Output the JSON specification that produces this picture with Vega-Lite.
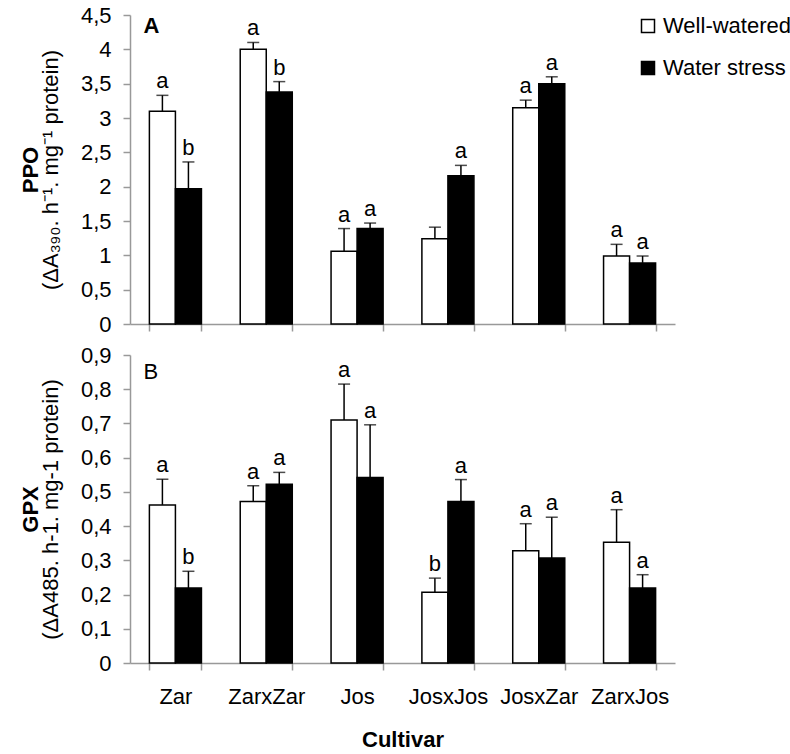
{
  "$schema": "https://vega.github.io/schema/vega-lite/v6.json",
  "padding": {"left": 19, "top": 4, "right": 0, "bottom": 0},
  "background": "white",
  "config": {
    "locale": {"number": {"decimal": ",", "thousands": ".", "grouping": [3], "currency": ["", ""]}},
    "font": "Liberation Sans",
    "view": {"stroke": null},
    "axis": {
      "domainColor": "#999999", "tickColor": "#999999", "domainWidth": 1.5, "tickWidth": 1.5, "tickSize": 7,
      "grid": false, "labelFont": "Liberation Sans", "labelFontSize": 22, "labelColor": "#000000",
      "titleFont": "Liberation Sans", "titleFontSize": 22, "titleColor": "#000000"
    },
    "legend": {"labelFont": "Liberation Sans", "labelFontSize": 22, "labelColor": "#000000"},
    "text": {"font": "Liberation Sans", "fontSize": 22, "color": "#000000"}
  },
  "datasets": {
    "bars": [
      {"panel": "A", "cultivar": "Zar", "treatment": "Well-watered", "value": 3.10, "errhi": 3.33, "letter": "a"},
      {"panel": "A", "cultivar": "Zar", "treatment": "Water stress", "value": 1.97, "errhi": 2.36, "letter": "b"},
      {"panel": "A", "cultivar": "ZarxZar", "treatment": "Well-watered", "value": 4.00, "errhi": 4.10, "letter": "a"},
      {"panel": "A", "cultivar": "ZarxZar", "treatment": "Water stress", "value": 3.38, "errhi": 3.53, "letter": "b"},
      {"panel": "A", "cultivar": "Jos", "treatment": "Well-watered", "value": 1.06, "errhi": 1.39, "letter": "a"},
      {"panel": "A", "cultivar": "Jos", "treatment": "Water stress", "value": 1.39, "errhi": 1.47, "letter": "a"},
      {"panel": "A", "cultivar": "JosxJos", "treatment": "Well-watered", "value": 1.24, "errhi": 1.41, "letter": ""},
      {"panel": "A", "cultivar": "JosxJos", "treatment": "Water stress", "value": 2.16, "errhi": 2.31, "letter": "a"},
      {"panel": "A", "cultivar": "JosxZar", "treatment": "Well-watered", "value": 3.15, "errhi": 3.26, "letter": "a"},
      {"panel": "A", "cultivar": "JosxZar", "treatment": "Water stress", "value": 3.50, "errhi": 3.60, "letter": "a"},
      {"panel": "A", "cultivar": "ZarxJos", "treatment": "Well-watered", "value": 0.99, "errhi": 1.16, "letter": "a"},
      {"panel": "A", "cultivar": "ZarxJos", "treatment": "Water stress", "value": 0.89, "errhi": 0.99, "letter": "a"},
      {"panel": "B", "cultivar": "Zar", "treatment": "Well-watered", "value": 0.462, "errhi": 0.537, "letter": "a"},
      {"panel": "B", "cultivar": "Zar", "treatment": "Water stress", "value": 0.219, "errhi": 0.268, "letter": "b"},
      {"panel": "B", "cultivar": "ZarxZar", "treatment": "Well-watered", "value": 0.472, "errhi": 0.518, "letter": "a"},
      {"panel": "B", "cultivar": "ZarxZar", "treatment": "Water stress", "value": 0.522, "errhi": 0.557, "letter": "a"},
      {"panel": "B", "cultivar": "Jos", "treatment": "Well-watered", "value": 0.710, "errhi": 0.815, "letter": "a"},
      {"panel": "B", "cultivar": "Jos", "treatment": "Water stress", "value": 0.542, "errhi": 0.696, "letter": "a"},
      {"panel": "B", "cultivar": "JosxJos", "treatment": "Well-watered", "value": 0.207, "errhi": 0.248, "letter": "b"},
      {"panel": "B", "cultivar": "JosxJos", "treatment": "Water stress", "value": 0.472, "errhi": 0.536, "letter": "a"},
      {"panel": "B", "cultivar": "JosxZar", "treatment": "Well-watered", "value": 0.328, "errhi": 0.407, "letter": "a"},
      {"panel": "B", "cultivar": "JosxZar", "treatment": "Water stress", "value": 0.307, "errhi": 0.426, "letter": "a"},
      {"panel": "B", "cultivar": "ZarxJos", "treatment": "Well-watered", "value": 0.353, "errhi": 0.448, "letter": "a"},
      {"panel": "B", "cultivar": "ZarxJos", "treatment": "Water stress", "value": 0.219, "errhi": 0.258, "letter": "a"}
    ],
    "labels": [
      {"panel": "A", "cultivar": "Zar", "yv": 4.5, "label": "A"},
      {"panel": "B", "cultivar": "Zar", "yv": 0.9, "label": "B"}
    ]
  },
  "spacing": 9,
  "resolve": {"legend": {"fill": "independent"}},
  "vconcat": [
    {
      "width": 545,
      "height": 309,
      "encoding": {
        "x": {"field": "cultivar", "type": "nominal", "sort": ["Zar", "ZarxZar", "Jos", "JosxJos", "JosxZar", "ZarxJos"],
              "scale": {"paddingInner": 0.427, "paddingOuter": 0.2135},
              "axis": {"labels": false, "title": null, "tickBand": "extent"}}
      },
      "layer": [
        {
          "data": {"name": "bars"},
          "transform": [{"filter": "datum.panel == 'A'"}],
          "mark": {"type": "bar", "stroke": "black", "strokeWidth": 1.5},
          "encoding": {
            "xOffset": {"field": "treatment", "type": "nominal", "sort": ["Well-watered", "Water stress"], "scale": {"paddingInner": 0, "paddingOuter": 0}},
            "y": {"field": "value", "type": "quantitative", "scale": {"domain": [0, 4.5], "nice": false, "zero": true},
                  "axis": {"values": [0, 0.5, 1, 1.5, 2, 2.5, 3, 3.5, 4, 4.5], "format": "~r", "labelPadding": 12,
                           "title": "(ΔA₃₉₀. h⁻¹. mg⁻¹ protein)", "titleFontWeight": "normal", "titlePadding": 18}},
            "fill": {"field": "treatment", "type": "nominal", "sort": ["Well-watered", "Water stress"],
                     "scale": {"domain": ["Well-watered", "Water stress"], "range": ["white", "black"]},
                     "legend": {"title": null, "orient": "none", "legendX": 507, "legendY": 0, "symbolType": "square",
                                "symbolSize": 169, "symbolStrokeColor": "black", "symbolStrokeWidth": 1.5,
                                "labelOffset": 4, "rowPadding": 20}}
          }
        },
        {
          "data": {"name": "bars"},
          "transform": [{"filter": "datum.panel == 'A'"}],
          "mark": {"type": "rule", "color": "black", "strokeWidth": 1.5},
          "encoding": {
            "xOffset": {"field": "treatment", "type": "nominal", "sort": ["Well-watered", "Water stress"]},
            "y": {"field": "value", "type": "quantitative", "scale": {"domain": [0, 4.5], "nice": false},
                  "axis": {"orient": "left", "labels": false, "ticks": false, "domain": false, "title": "PPO",
                           "titleFontWeight": "bold", "titlePadding": 88}},
            "y2": {"field": "errhi"}
          }
        },
        {
          "data": {"name": "bars"},
          "transform": [{"filter": "datum.panel == 'A'"}],
          "mark": {"type": "tick", "color": "black", "size": 12, "thickness": 1.5},
          "encoding": {
            "xOffset": {"field": "treatment", "type": "nominal", "sort": ["Well-watered", "Water stress"]},
            "y": {"field": "errhi", "type": "quantitative", "scale": {"domain": [0, 4.5], "nice": false}, "axis": null}
          }
        },
        {
          "data": {"name": "bars"},
          "transform": [{"filter": "datum.panel == 'A'"}],
          "mark": {"type": "text", "baseline": "alphabetic", "dy": -7},
          "encoding": {
            "xOffset": {"field": "treatment", "type": "nominal", "sort": ["Well-watered", "Water stress"]},
            "y": {"field": "errhi", "type": "quantitative", "scale": {"domain": [0, 4.5], "nice": false}, "axis": null},
            "text": {"field": "letter"}
          }
        },
        {
          "data": {"name": "labels"},
          "transform": [{"filter": "datum.panel == 'A'"}],
          "mark": {"type": "text", "align": "left", "baseline": "top", "fontWeight": "bold", "dx": -6, "dy": 1},
          "encoding": {
            "x": {"field": "cultivar", "type": "nominal", "bandPosition": 0},
            "y": {"field": "yv", "type": "quantitative", "scale": {"domain": [0, 4.5], "nice": false}, "axis": null},
            "text": {"field": "label"}
          }
        }
      ],
      "resolve": {"axis": {"y": "independent"}}
    },
    {
      "width": 545,
      "height": 308,
      "encoding": {
        "x": {"field": "cultivar", "type": "nominal", "sort": ["Zar", "ZarxZar", "Jos", "JosxJos", "JosxZar", "ZarxJos"],
              "scale": {"paddingInner": 0.427, "paddingOuter": 0.2135},
              "axis": {"labelAngle": 0, "labelPadding": 16, "title": "Cultivar", "titleFontWeight": "bold", "titlePadding": 22, "tickBand": "extent"}}
      },
      "layer": [
        {
          "data": {"name": "bars"},
          "transform": [{"filter": "datum.panel == 'B'"}],
          "mark": {"type": "bar", "stroke": "black", "strokeWidth": 1.5},
          "encoding": {
            "xOffset": {"field": "treatment", "type": "nominal", "sort": ["Well-watered", "Water stress"], "scale": {"paddingInner": 0, "paddingOuter": 0}},
            "y": {"field": "value", "type": "quantitative", "scale": {"domain": [0, 0.9], "nice": false, "zero": true},
                  "axis": {"values": [0, 0.1, 0.2, 0.3, 0.4, 0.5, 0.6, 0.7, 0.8, 0.9], "format": "~r", "labelPadding": 12,
                           "title": "(ΔA485. h-1. mg-1 protein)", "titleFontWeight": "normal", "titlePadding": 18}},
            "fill": {"field": "treatment", "type": "nominal", "sort": ["Well-watered", "Water stress"],
                     "scale": {"domain": ["Well-watered", "Water stress"], "range": ["white", "black"]},
                     "legend": null}
          }
        },
        {
          "data": {"name": "bars"},
          "transform": [{"filter": "datum.panel == 'B'"}],
          "mark": {"type": "rule", "color": "black", "strokeWidth": 1.5},
          "encoding": {
            "xOffset": {"field": "treatment", "type": "nominal", "sort": ["Well-watered", "Water stress"]},
            "y": {"field": "value", "type": "quantitative", "scale": {"domain": [0, 0.9], "nice": false},
                  "axis": {"orient": "left", "labels": false, "ticks": false, "domain": false, "title": "GPX",
                           "titleFontWeight": "bold", "titlePadding": 88}},
            "y2": {"field": "errhi"}
          }
        },
        {
          "data": {"name": "bars"},
          "transform": [{"filter": "datum.panel == 'B'"}],
          "mark": {"type": "tick", "color": "black", "size": 12, "thickness": 1.5},
          "encoding": {
            "xOffset": {"field": "treatment", "type": "nominal", "sort": ["Well-watered", "Water stress"]},
            "y": {"field": "errhi", "type": "quantitative", "scale": {"domain": [0, 0.9], "nice": false}, "axis": null}
          }
        },
        {
          "data": {"name": "bars"},
          "transform": [{"filter": "datum.panel == 'B'"}],
          "mark": {"type": "text", "baseline": "alphabetic", "dy": -7},
          "encoding": {
            "xOffset": {"field": "treatment", "type": "nominal", "sort": ["Well-watered", "Water stress"]},
            "y": {"field": "errhi", "type": "quantitative", "scale": {"domain": [0, 0.9], "nice": false}, "axis": null},
            "text": {"field": "letter"}
          }
        },
        {
          "data": {"name": "labels"},
          "transform": [{"filter": "datum.panel == 'B'"}],
          "mark": {"type": "text", "align": "left", "baseline": "top", "dx": -6, "dy": 7},
          "encoding": {
            "x": {"field": "cultivar", "type": "nominal", "bandPosition": 0},
            "y": {"field": "yv", "type": "quantitative", "scale": {"domain": [0, 0.9], "nice": false}, "axis": null},
            "text": {"field": "label"}
          }
        }
      ],
      "resolve": {"axis": {"y": "independent"}}
    }
  ]
}
